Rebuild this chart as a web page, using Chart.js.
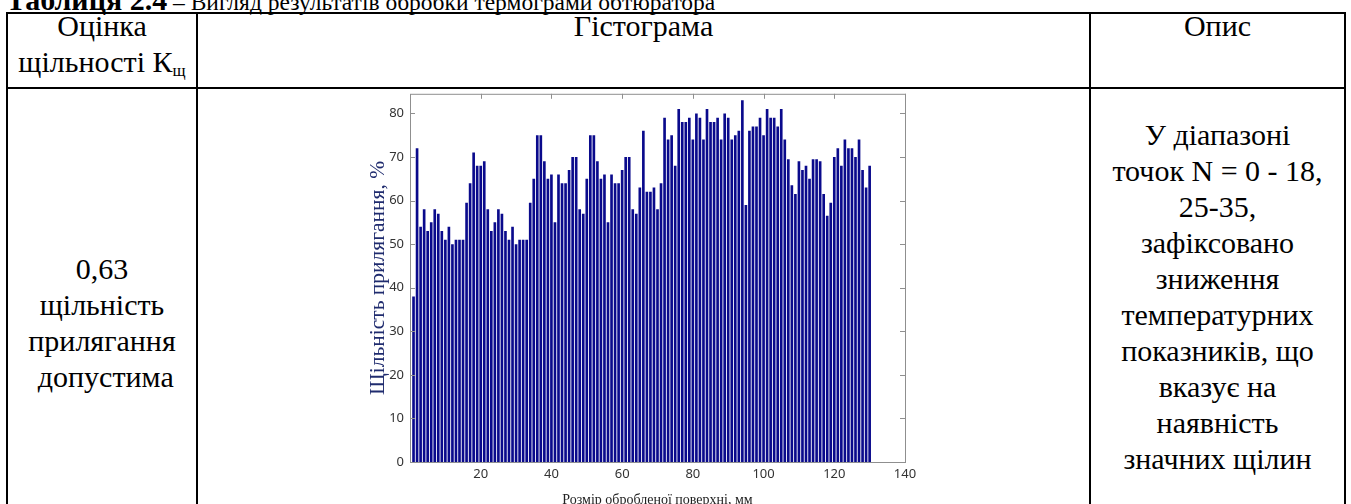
<!DOCTYPE html>
<html lang="uk">
<head>
<meta charset="utf-8">
<title>Гістограма</title>
<script src="https://cdn.jsdelivr.net/npm/chart.js@4.4.1/dist/chart.umd.min.js"></script>
<style>
  html, body { margin: 0; padding: 0; background: #fff; }
  body {
    width: 1351px; height: 504px; position: relative; overflow: hidden;
    font-family: "Liberation Serif", "DejaVu Serif", serif; color: #000;
  }
  .caption { position: absolute; left: 6px; top: -15px; font-size: 30px; line-height: 30px; white-space: nowrap; }
  .caption span { font-size: 23.5px; }
  .line { position: absolute; background: #000; }
  .cell { position: absolute; text-align: center; font-size: 30px; line-height: 36px; white-space: nowrap; }
  .cell sub { font-size: 17px; vertical-align: -4px; line-height: 0; }
  #chartBox { position: absolute; left: 355px; top: 80px; width: 575px; height: 432px; }
</style>
</head>
<body>

<div class="caption"><b>Таблиця 2.4</b><span> – Вигляд результатів обробки термограми обтюратора</span></div>

<!-- table rules -->
<div class="line" style="left:6px; top:12px; width:1340px; height:2px;"></div>
<div class="line" style="left:6px; top:87px; width:1340px; height:2px;"></div>
<div class="line" style="left:6px; top:12px; width:2px; height:492px;"></div>
<div class="line" style="left:196px; top:12px; width:2px; height:492px;"></div>
<div class="line" style="left:1089px; top:12px; width:2px; height:492px;"></div>
<div class="line" style="left:1344px; top:12px; width:2px; height:492px;"></div>

<!-- header -->
<div class="cell" style="left:8px; width:188px; top:8px;">Оцінка<br>щільності К<sub>щ</sub></div>
<div class="cell" style="left:198px; width:891px; top:8px;">Гістограма</div>
<div class="cell" style="left:1091px; width:253px; top:8px;">Опис</div>

<!-- body -->
<div class="cell" style="left:8px; width:188px; top:251px;">0,63<br>щільність<br>прилягання<br>&nbsp;допустима</div>
<div class="cell" style="left:1091px; width:253px; top:117px;">У діапазоні<br>точок N = 0 - 18,<br>25-35,<br>зафіксовано<br>зниження<br>температурних<br>показників, що<br>вказує на<br>наявність<br>значних щілин</div>

<div id="chartBox"><canvas id="chart"></canvas></div>

<script>
// bar positions along the surface, mm
const positions = [
  1, 2, 3, 4, 5, 6, 7, 8, 9, 10, 11, 12, 13, 14, 15, 16, 17, 18, 19, 20,
  21, 22, 23, 24, 25, 26, 27, 28, 29, 30, 31, 32, 33, 34, 35, 36, 37, 38, 39, 40,
  41, 42, 43, 44, 45, 46, 47, 48, 49, 50, 51, 52, 53, 54, 55, 56, 57, 58, 59, 60,
  61, 62, 63, 64, 65, 66, 67, 68, 69, 70, 71, 72, 73, 74, 75, 76, 77, 78, 79, 80,
  81, 82, 83, 84, 85, 86, 87, 88, 89, 90, 91, 92, 93, 94, 95, 96, 97, 98, 99, 100,
  101, 102, 103, 104, 105, 106, 107, 108, 109, 110, 111, 112, 113, 114, 115, 116, 117, 118, 119, 120,
  121, 122, 123, 124, 125, 126, 127, 128, 129, 130
];

// contact density, %
const density = [
  38, 72, 54, 58, 53, 55, 58, 57, 53, 51, 54, 50, 51, 51, 51, 59.5, 64, 71, 68, 68,
  69, 58, 53, 55, 58, 57, 53, 51, 54, 50, 51, 51, 51, 59.5, 65, 75, 75, 69, 65, 66,
  55, 66, 64, 64, 67, 70, 70, 58, 57, 65, 75, 75, 69, 65, 66, 55, 66, 64, 64, 67,
  70, 70, 58, 57, 63, 76, 62, 62, 63, 58, 64, 79, 74, 75, 68, 81, 78, 78, 79, 74,
  80, 79, 74, 81, 78, 78, 79, 74, 80, 79, 74, 75, 76, 83, 59, 76, 77, 77, 79, 75,
  81, 79, 79, 77, 81, 74, 69.5, 63.5, 61.5, 69, 67, 68, 65, 69.5, 69.5, 69, 61.5, 56.5, 59.5, 70,
  72, 68, 74, 72, 72, 70, 74, 67, 63, 68
];

const xTicks = [20, 40, 60, 80, 100, 120, 140];
const yTicks = [0, 10, 20, 30, 40, 50, 60, 70, 80];

const xTitle = "Розмір обробленої поверхні, мм";
const yTitle = "Щільність прилягання, %";

// grey box round the plot with small inward ticks, like the original figure
const axesFrame = {
  id: "axesFrame",
  afterDatasetsDraw(chart) {
    const { ctx, chartArea: a, scales } = chart;
    ctx.save();
    ctx.strokeStyle = "#8f8f8f";
    ctx.lineWidth = 1;
    ctx.strokeRect(a.left + 0.5, a.top + 0.5, a.right - a.left, a.bottom - a.top);
    ctx.beginPath();
    yTicks.forEach(v => {
      const y = Math.round(scales.y.getPixelForValue(v)) + 0.5;
      ctx.moveTo(a.left, y); ctx.lineTo(a.left + 5, y);
      ctx.moveTo(a.right, y); ctx.lineTo(a.right - 5, y);
    });
    xTicks.forEach(v => {
      const x = Math.round(scales.x.getPixelForValue(v)) + 0.5;
      ctx.moveTo(x, a.top); ctx.lineTo(x, a.top + 5);
    });
    ctx.stroke();
    ctx.restore();
  },
};

new Chart(document.getElementById("chart"), {
  type: "bar",
  data: {
    datasets: [{
      data: positions.map((x, i) => ({ x, y: density[i] })),
      backgroundColor: "#0a0a8c",
      borderWidth: 0,
      barPercentage: 0.75,
      categoryPercentage: 1,
    }],
  },
  options: {
    responsive: true,
    maintainAspectRatio: false,
    animation: false,
    events: [],
    layout: { padding: { top: 5, right: 25, bottom: 0, left: 0 } },
    plugins: {
      legend: { display: false },
      tooltip: { enabled: false },
    },
    scales: {
      x: {
        type: "linear",
        min: 0,
        max: 140,
        offset: false,
        afterBuildTicks: s => { s.ticks = xTicks.map(value => ({ value })); },
        afterFit: s => { s.height = 50; },
        grid: { display: false, drawTicks: false, offset: false },
        border: { display: false },
        ticks: {
          color: "#333",
          font: { family: "Noto Sans", size: 13 },
          padding: 4,
          maxRotation: 0,
        },
        title: {
          display: true,
          text: xTitle,
          color: "#222",
          font: { family: "Liberation Serif", size: 14 },
          padding: { top: 0, bottom: 3 },
        },
      },
      y: {
        min: 0,
        max: 84.5,
        afterBuildTicks: s => { s.ticks = yTicks.map(value => ({ value })); },
        afterFit: s => { s.width = 55; },
        grid: { display: false, drawTicks: false },
        border: { display: false },
        ticks: {
          color: "#333",
          font: { family: "Noto Sans", size: 13 },
          padding: 6,
        },
        title: {
          display: true,
          text: yTitle,
          color: "#1f2b6e",
          font: { family: "Liberation Serif", size: 21.5 },
          padding: { top: 10, bottom: 0 },
        },
      },
    },
  },
  plugins: [axesFrame],
});
</script>
</body>
</html>
